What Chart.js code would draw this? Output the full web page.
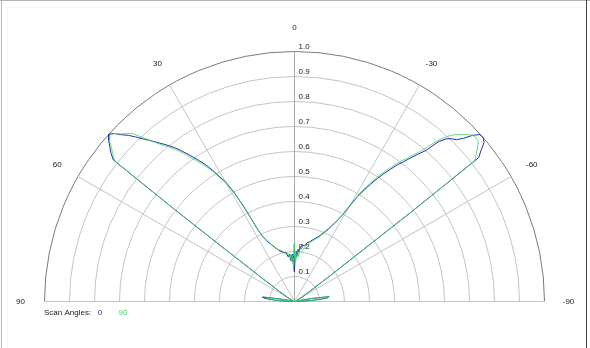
<!DOCTYPE html>
<html><head><meta charset="utf-8">
<script src="https://cdn.jsdelivr.net/npm/chart.js@4/dist/chart.umd.min.js"></script>
<style>html,body{margin:0;padding:0;background:#fff;overflow:hidden}canvas{display:block}</style>
</head><body>
<canvas id="c" width="590" height="348"></canvas>
<script>
// scan angle (deg, positive to the left) and normalised amplitude per series
const angles = [-90,-88,-86,-84,-82,-80,-78,-75,-70,-65,-60,-56,-54,-53,-52.5,-52,-51,-50,-49,-48,-47,-46,-45,-44,-43,-42,-41,-40,-39,-38,-37,-36,-35,-34,-33,-32,-31,-30,-29,-28,-27,-26,-25,-24,-22,-20,-18,-16,-14,-12,-10,-8,-6,-5,-4,-3,-2,-1.5,-1,-0.5,0,0.5,1,1.5,2,3,4,5,6,8,10,12,14,16,18,20,22,24,25,26,27,28,29,30,31,32,33,34,35,36,37,38,39,40,41,42,43,44,45,46,47,48,49,50,51,52,52.5,53,54,56,60,65,70,75,78,80,82,84,86,88,90];
const scan0 = [0,0.03,0.08,0.13,0.14,0.07,0.01,0.005,0.005,0.01,0.03,0.08,0.18,0.35,0.6,0.935,0.96,0.99,1.0,0.998,0.975,0.94,0.915,0.905,0.89,0.86,0.8,0.77,0.74,0.71,0.685,0.655,0.625,0.595,0.56,0.525,0.49,0.44,0.395,0.37,0.35,0.335,0.32,0.31,0.29,0.275,0.265,0.255,0.245,0.24,0.225,0.23,0.215,0.2,0.21,0.18,0.2,0.17,0.19,0.15,0.23,0.12,0.18,0.15,0.19,0.16,0.185,0.165,0.19,0.18,0.2,0.2,0.205,0.21,0.22,0.23,0.245,0.26,0.272,0.29,0.32,0.42,0.5,0.553,0.583,0.62,0.652,0.678,0.704,0.73,0.757,0.782,0.803,0.824,0.845,0.867,0.89,0.915,0.94,0.96,0.985,1.0,0.985,0.965,0.945,0.92,0.6,0.35,0.18,0.08,0.03,0.01,0.005,0.005,0.01,0.06,0.13,0.12,0.08,0.03,0];
const scan90 = [0,0.03,0.085,0.135,0.14,0.07,0.01,0.005,0.005,0.01,0.03,0.08,0.18,0.35,0.6,0.915,0.935,0.955,0.975,0.978,0.975,0.962,0.945,0.93,0.905,0.875,0.83,0.785,0.755,0.725,0.7,0.67,0.64,0.61,0.575,0.54,0.5,0.45,0.4,0.365,0.345,0.33,0.315,0.305,0.285,0.27,0.26,0.25,0.24,0.225,0.215,0.2,0.205,0.18,0.2,0.19,0.17,0.195,0.16,0.2,0.235,0.18,0.14,0.175,0.15,0.185,0.165,0.19,0.175,0.195,0.19,0.2,0.21,0.215,0.22,0.235,0.245,0.265,0.275,0.29,0.315,0.41,0.49,0.545,0.575,0.61,0.64,0.665,0.69,0.715,0.745,0.77,0.795,0.815,0.84,0.87,0.9,0.935,0.95,0.965,0.985,0.995,0.98,0.955,0.935,0.91,0.6,0.35,0.18,0.08,0.03,0.01,0.005,0.005,0.01,0.05,0.11,0.115,0.075,0.03,0];
const radialTicks = [0.1,0.2,0.3,0.4,0.5,0.6,0.7,0.8,0.9,1.0];
const radialLabels = ['0.1','0.2','0.3','0.4','0.5','0.6','0.7','0.8','0.9','1.0'];
const spokeAngles = [-60,-30,0,30,60];
const angleLabels = [0,30,-30,60,-60,90,-90];
const seriesNames = ['0','90'];
const seriesColors = ['#2a2fa8','#3fdc62'];
const seriesLineColors = ['#2a2fa8','rgba(63,220,98,0.8)'];

const toXY = (rs) => angles.map((a,i)=>{const t=a*Math.PI/180;return {x:-rs[i]*Math.sin(t), y:rs[i]*Math.cos(t)};});

const FONT = '8px "Liberation Sans", Arial, sans-serif';

const polarGrid = {
  id:'polarGrid',
  beforeDatasetsDraw(chart){
    const ctx=chart.ctx, xs=chart.scales.x, ys=chart.scales.y;
    const cx=xs.getPixelForValue(0), cy=ys.getPixelForValue(0);
    const R=xs.getPixelForValue(1)-cx;
    const P=(r,deg)=>{const t=deg*Math.PI/180;return [xs.getPixelForValue(-r*Math.sin(t)), ys.getPixelForValue(r*Math.cos(t))];};
    ctx.save();
    // frame
    ctx.lineWidth=1;
    ctx.strokeStyle='#f6f6f6';
    ctx.beginPath();ctx.moveTo(7.5,348);ctx.lineTo(7.5,7.5);ctx.lineTo(586,7.5);ctx.stroke();
    ctx.strokeStyle='#b4b4b4';
    ctx.beginPath();ctx.moveTo(0,0.5);ctx.lineTo(590,0.5);ctx.stroke();
    ctx.beginPath();ctx.moveTo(1.5,0);ctx.lineTo(1.5,348);ctx.stroke();
    ctx.strokeStyle='#444';
    ctx.beginPath();ctx.moveTo(586.5,0);ctx.lineTo(586.5,348);ctx.stroke();
    // circles
    radialTicks.forEach(v=>{
      ctx.strokeStyle = v>=1 ? '#7a7a7a' : '#c4c4c4';
      ctx.beginPath();ctx.arc(cx,cy,v*R,Math.PI,2*Math.PI);ctx.stroke();
    });
    // spokes
    spokeAngles.forEach(a=>{
      const [x,y]=P(1,a);
      ctx.strokeStyle = a===0 ? '#a8a8a8' : '#c4c4c4';
      ctx.beginPath();ctx.moveTo(cx,cy);ctx.lineTo(x,y);ctx.stroke();
    });
    // baseline
    ctx.strokeStyle='#c4c4c4';
    ctx.beginPath();ctx.moveTo(cx-R,cy);ctx.lineTo(cx+R,cy);ctx.stroke();
    // radial labels
    ctx.font=FONT;ctx.fillStyle='#222';ctx.textAlign='left';ctx.textBaseline='middle';
    radialTicks.forEach((v,i)=>{ctx.fillText(radialLabels[i], cx+4, cy-v*R-5);});
    // angle labels
    ctx.textAlign='center';
    angleLabels.forEach(a=>{const [x,y]=P(1.096,a);ctx.fillText(String(a),x,y);});
    // legend
    ctx.textAlign='left';
    ctx.fillStyle='#222';ctx.fillText('Scan Angles:',44,313);
    ctx.textAlign='center';
    ctx.fillStyle=seriesColors[0];ctx.fillText(seriesNames[0],100,313);
    ctx.fillStyle=seriesColors[1];ctx.fillText(seriesNames[1],123,313);
    ctx.restore();
  }
};

new Chart(document.getElementById('c'),{
  type:'scatter',
  data:{datasets:[
    {label:seriesNames[1],data:toXY(scan90),showLine:true,borderColor:seriesLineColors[1],borderWidth:1,pointRadius:0,tension:0,order:1},
    {label:seriesNames[0],data:toXY(scan0),showLine:true,borderColor:seriesLineColors[0],borderWidth:1,pointRadius:0,tension:0,order:2}
  ]},
  options:{
    responsive:false,animation:false,events:[],
    layout:{padding:0},
    plugins:{legend:{display:false},tooltip:{enabled:false}},
    scales:{
      x:{type:'linear',min:-1.178,max:1.182,display:false},
      y:{type:'linear',min:-0.186,max:1.206,display:false}
    }
  },
  plugins:[polarGrid]
});
</script>
</body></html>
